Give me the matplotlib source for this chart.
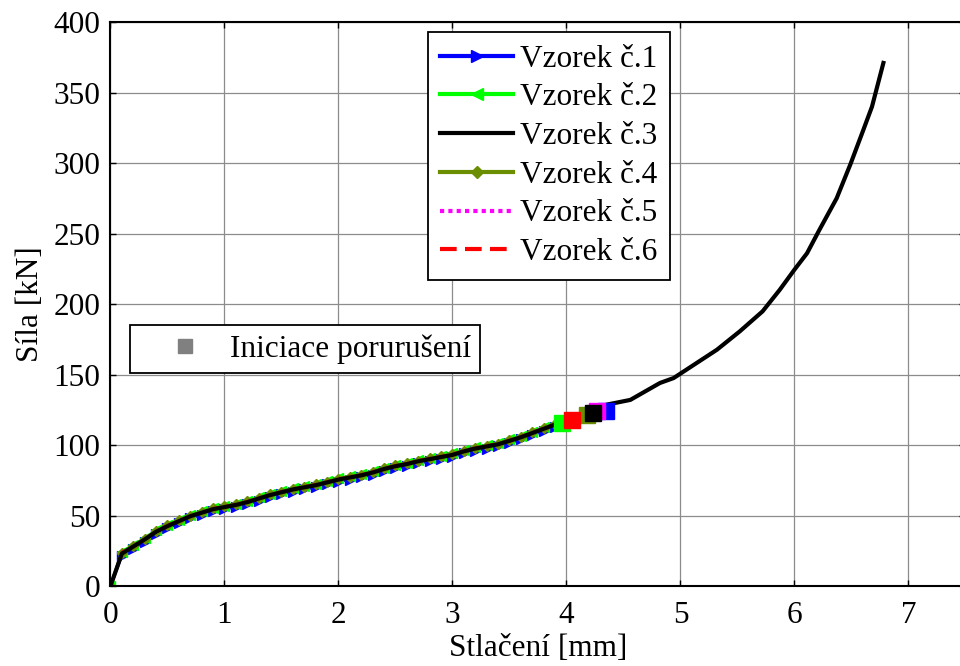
import matplotlib

matplotlib.use("Agg")
import matplotlib.pyplot as plt
from matplotlib.lines import Line2D

plt.rcParams["font.family"] = ["Liberation Serif", "DejaVu Serif"]

# ── Data ──────────────────────────────────────────────────────────────────────
x_common = [0.0, 0.1, 0.2, 0.3, 0.4, 0.5, 0.6, 0.7, 0.8, 0.9,
            1.0, 1.1, 1.2, 1.3, 1.4, 1.5, 1.6, 1.7, 1.8, 1.9,
            2.0, 2.1, 2.2, 2.3, 2.4, 2.5, 2.6, 2.7, 2.8, 2.9,
            3.0, 3.1, 3.2, 3.3, 3.4, 3.5, 3.6, 3.7, 3.8, 3.9]

x1 = x_common + [4.0, 4.1, 4.2, 4.35]
y1 = [0, 21.5, 26.5, 31.5, 37, 41, 44.5, 48, 50.5, 53,
      54.5, 56, 58, 60.5, 63, 65, 67, 68.5, 70, 72,
      74, 75.5, 77, 79, 81.5, 83.5, 85, 87, 88.5, 90,
      91.5, 94, 96, 97.5, 99, 101.5, 104, 107, 110, 113,
      116, 119, 121.5, 124]

x2 = x_common + [3.96]
y2 = [0, 24, 29, 34, 39.5, 43.5, 47, 50.5, 53, 55.5,
      57, 58.5, 60.5, 63, 65.5, 67.5, 69.5, 71, 72.5, 74.5,
      76.5, 78, 79.5, 81.5, 84, 86, 87.5, 89.5, 91, 92.5,
      94, 96.5, 98.5, 100, 101.5, 104, 106.5, 109.5, 112.5, 115,
      115.7]

x3 = x_common + [4.0, 4.1, 4.23, 4.35, 4.56, 4.82, 4.94, 5.32, 5.52, 5.72, 5.87, 6.0,
                 6.11, 6.22, 6.37, 6.49, 6.6, 6.68, 6.78]
y3 = [0, 23, 28, 33, 38.5, 42.5, 46, 49.5, 52, 54.5,
      56, 57.5, 59.5, 62, 64.5, 66.5, 68.5, 70, 71.5, 73.5,
      75.5, 77, 78.5, 80.5, 83, 85, 86.5, 88.5, 90, 91.5,
      93, 95.5, 97.5, 99, 100.5, 103, 105.5, 108.5, 111.5, 114.5,
      117, 120, 122.8, 128.6, 132, 144, 147.5, 167.6, 180.6, 194.8, 210, 224.4,
      236, 252.8, 275, 299, 322.6, 340, 371]

x4 = x_common + [4.0, 4.1, 4.18]
y4 = [0, 23.5, 28.5, 33.5, 39, 43, 46.5, 50, 52.5, 55,
      56.5, 58, 60, 62.5, 65, 67, 69, 70.5, 72, 74,
      76, 77.5, 79, 81, 83.5, 85.5, 87, 89, 90.5, 92,
      93.5, 96, 98, 99.5, 101, 103.5, 106, 109, 112, 115,
      117.5, 120, 121.6]

x5 = x_common + [4.0, 4.1, 4.2, 4.27]
y5 = [0, 23, 28, 33, 38.5, 42.5, 46, 49.5, 52, 54.5,
      56, 57.5, 59.5, 62, 64.5, 66.5, 68.5, 70, 71.5, 73.5,
      75.5, 77, 78.5, 80.5, 83, 85, 86.5, 88.5, 90, 91.5,
      93, 95.5, 97.5, 99, 100.5, 103, 105.5, 108.5, 111.5, 114.5,
      117, 120, 122.5, 124]

x6 = x_common + [4.0, 4.05]
y6 = [0, 24, 28, 33.5, 38.5, 43, 46, 50, 52, 55,
      56.5, 58, 60, 62.5, 64.5, 67, 68.5, 70.5, 72, 74,
      76, 77.5, 79, 81, 83.5, 85.5, 87, 89, 90.5, 92,
      93.5, 96, 98, 99.5, 101, 103.5, 106, 109, 112, 115,
      116.5, 117.5]

# failure initiation points for specimens 1..6
fail_x = [4.35, 3.96, 4.23, 4.18, 4.27, 4.05]
fail_y = [124, 115.7, 122.8, 121.6, 124, 117.5]

labels = ["Vzorek č.1", "Vzorek č.2", "Vzorek č.3", "Vzorek č.4", "Vzorek č.5", "Vzorek č.6"]
colors = ["#0000ff", "#00ff00", "#000000", "#6b8e00", "#ff00ff", "#ff0000"]

FS = 22.5

# ── Figure ───────────────────────────────────────────────────────────────────
fig = plt.figure(figsize=(9.6, 6.66), dpi=100)
ax = fig.add_axes([0.1151, 0.1201, 0.8906, 0.8468])

ax.grid(True, color="#8c8c8c", linewidth=0.9)
ax.set_axisbelow(True)

ax.plot(x1, y1, color=colors[0], lw=2, marker=">", ms=7, mec=colors[0])
ax.plot(x2, y2, color=colors[1], lw=2, marker="<", ms=7, mec=colors[1])
ax.plot(x4, y4, color=colors[3], lw=2.5, marker="D", ms=5, mec=colors[3])
ax.plot(x6, y6, color=colors[5], lw=2, ls=(0, (4, 2)))
ax.plot(x5, y5, color=colors[4], lw=2, ls=(0, (1, 1)))
ax.plot(x3, y3, color=colors[2], lw=3)

# failure squares
for i in [0, 4, 3, 2, 1, 5]:
    ax.plot(fail_x[i], fail_y[i], marker="s", ms=11, color=colors[i], mec=colors[i], ls="none")

ax.set_xlim(0, 7.5)
ax.set_ylim(0, 400)
ax.set_xticks([0, 1, 2, 3, 4, 5, 6, 7])
ax.set_yticks(range(0, 401, 50))
ax.tick_params(direction="in", length=4, width=1, labelsize=FS, top=True, right=True)
ax.tick_params(axis="x", pad=11)
ax.tick_params(axis="y", pad=7.5)
for s in ax.spines.values():
    s.set_linewidth(1.5)

ax.set_xlabel("Stlačení [mm]", fontsize=FS, labelpad=3)
ax.set_ylabel("Síla [kN]", fontsize=FS, labelpad=6)

leg1 = ax.legend(
    handles=[
        Line2D([], [], color=colors[0], lw=3, marker=">", ms=9, markevery=[1]),
        Line2D([], [], color=colors[1], lw=3, marker="<", ms=9, markevery=[1]),
        Line2D([], [], color=colors[2], lw=3),
        Line2D([], [], color=colors[3], lw=3, marker="D", ms=6, markevery=[1]),
        Line2D([], [], color=colors[4], lw=3, ls=(0, (1, 1))),
        Line2D([], [], color=colors[5], lw=3, ls=(0, (4, 2))),
    ],
    labels=labels,
    loc="upper left",
    bbox_to_anchor=(0.371, 0.982),
    borderaxespad=0,
    fontsize=FS,
    frameon=True,
    fancybox=False,
    edgecolor="black",
    framealpha=1,
    handlelength=2.33,
    handletextpad=0.22,
    labelspacing=0.31,
    borderpad=0.4,
)
leg1.get_frame().set_linewidth(1.3)
ax.add_artist(leg1)

leg2 = ax.legend(
    handles=[Line2D([], [], color="#808080", marker="s", ms=10, ls="none")],
    labels=["Iniciace porurušení"],
    loc="upper left",
    bbox_to_anchor=(0.0228, 0.463),
    borderaxespad=0,
    fontsize=FS,
    frameon=True,
    fancybox=False,
    edgecolor="black",
    framealpha=1,
    handlelength=2.9,
    handletextpad=0.0,
    borderpad=0.3,
)
leg2.get_frame().set_linewidth(1.3)

fig.savefig("out.png", dpi=100)
